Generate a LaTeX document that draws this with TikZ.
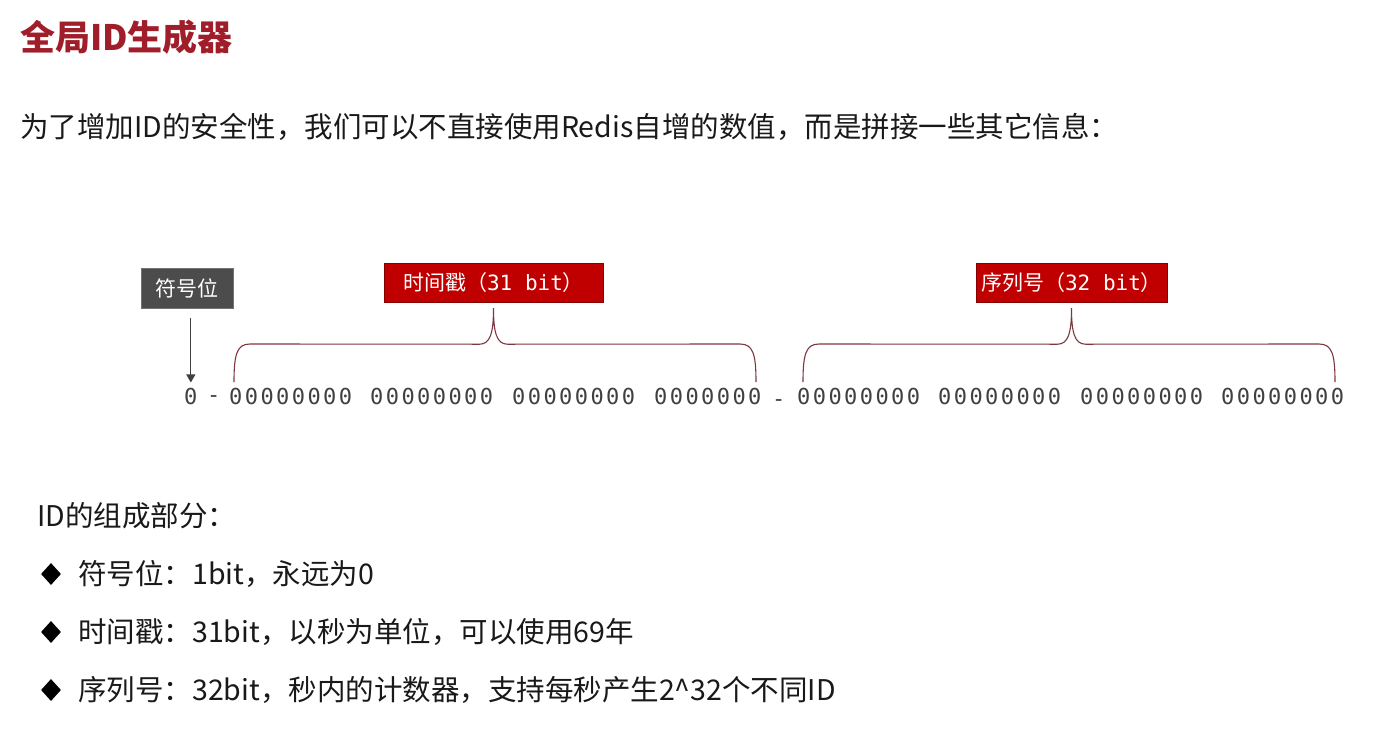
\documentclass[tikz,border=0pt]{standalone}
\usepackage{fontspec}
\setmainfont{Noto Sans CJK SC}
\newfontfamily\bitfont{DejaVu Sans Mono}
\newfontfamily\bitrowfont{DejaVu Sans Mono}[LetterSpace=11]
\usetikzlibrary{arrows,shapes,calc}
\definecolor{titlered}{RGB}{160,30,42}
\definecolor{boxred}{RGB}{192,0,0}
\definecolor{bracecol}{RGB}{125,55,65}
\tikzstyle{title}=[anchor=west,inner sep=0pt,text=titlered,font=\bfseries\fontsize{35}{35}\selectfont]
\tikzstyle{body}=[anchor=west,inner sep=0pt,text=black!90,font=\fontsize{28.5}{28.5}\selectfont]
\tikzstyle{graybox}=[fill=black!70,draw=black!55,text=white,minimum width=92pt,minimum height=40pt,inner sep=0pt,font=\fontsize{21}{21}\selectfont]
\tikzstyle{redbox}=[fill=boxred,draw=boxred!70!black,text=white,minimum height=39pt,inner sep=0pt,font=\fontsize{21}{21}\selectfont]
\tikzstyle{bits}=[anchor=west,inner sep=0pt,text=black!75,font=\bitrowfont\fontsize{22}{22}\selectfont]
\tikzstyle{brace}=[draw=bracecol,line width=1.1pt]
\tikzstyle{pointer}=[draw=black!75,line width=1.2pt,-triangle 60,shorten <=10pt,shorten >=5pt]
\tikzstyle{bullet}=[diamond,fill=black,inner sep=0pt,minimum width=20pt,minimum height=22pt]

\begin{document}
\begin{tikzpicture}[x=1pt,y=-1pt]
    \useasboundingbox[fill=white] (0,0) rectangle (1374,737);

    \node[title] (title) at (20,37) {全局ID生成器};
    \node[body] (intro) at (20,127) {为了增加ID的安全性，我们可以不直接使用Redis自增的数值，而是拼接一些其它信息：};

    % labels over the bits
    \node[graybox] (sign) at (187,288) {符号位};
    \node[redbox,minimum width=219pt] (ts) at (493.5,282.5) {时间戳（{\bitfont 31 bit}）};
    \node[redbox,minimum width=191pt] (sq) at (1071.5,282.5) {序列号（{\bitfont 32 bit}）};

    % the bits
    \node[bits] (b0) at (184,396) {0};
    \node[bits] (d1) at (207,399) {-};
    \foreach \name/\x/\val in {ts1/229/00000000, ts2/370/00000000, ts3/512/00000000, ts4/654/0000000, sq1/797/00000000, sq2/938/00000000, sq3/1080/00000000, sq4/1221/00000000}
        \node[bits] (\name) at (\x,396) {\val};
    \node[bits] (d2) at (772,403) {-};

    \coordinate (tsL) at (234,382);
    \coordinate (tsR) at (756,382);
    \coordinate (sqL) at (803,382);
    \coordinate (sqR) at (1335,382);

    \draw[pointer] (b0.north |- sign.south) -- (b0.north);

    % braces
    \foreach \l/\t/\r in {tsL/ts/tsR, sqL/sq/sqR}
        \draw[brace] (\l) .. controls ($(\l)+(0,-28)$) and ($(\l)+(3,-38)$) .. ($(\l)+(16,-38)$)
            -- ($(\t.south)+(-14,42)$) .. controls ($(\t.south)+(-3,42)$) and ($(\t.south)+(0,30)$) .. ($(\t.south)+(0,6)$)
            .. controls ($(\t.south)+(0,30)$) and ($(\t.south)+(3,42)$) .. ($(\t.south)+(14,42)$)
            -- ($(\r)+(-16,-38)$) .. controls ($(\r)+(-3,-38)$) and ($(\r)+(0,-28)$) .. (\r);

    % parts of the id
    \node[body] (parts) at (37,516) {ID的组成部分：};
    \foreach \y/\name/\txt in {574/p1/{符号位：1bit，永远为0}, 632/p2/{时间戳：31bit，以秒为单位，可以使用69年}, 690/p3/{序列号：32bit，秒内的计数器，支持每秒产生2\textasciicircum32个不同ID}} {
        \node[bullet] (\name m) at (51,\y) {};
        \node[body] (\name) at (78,\y) {\txt};
    }
\end{tikzpicture}
\end{document}
